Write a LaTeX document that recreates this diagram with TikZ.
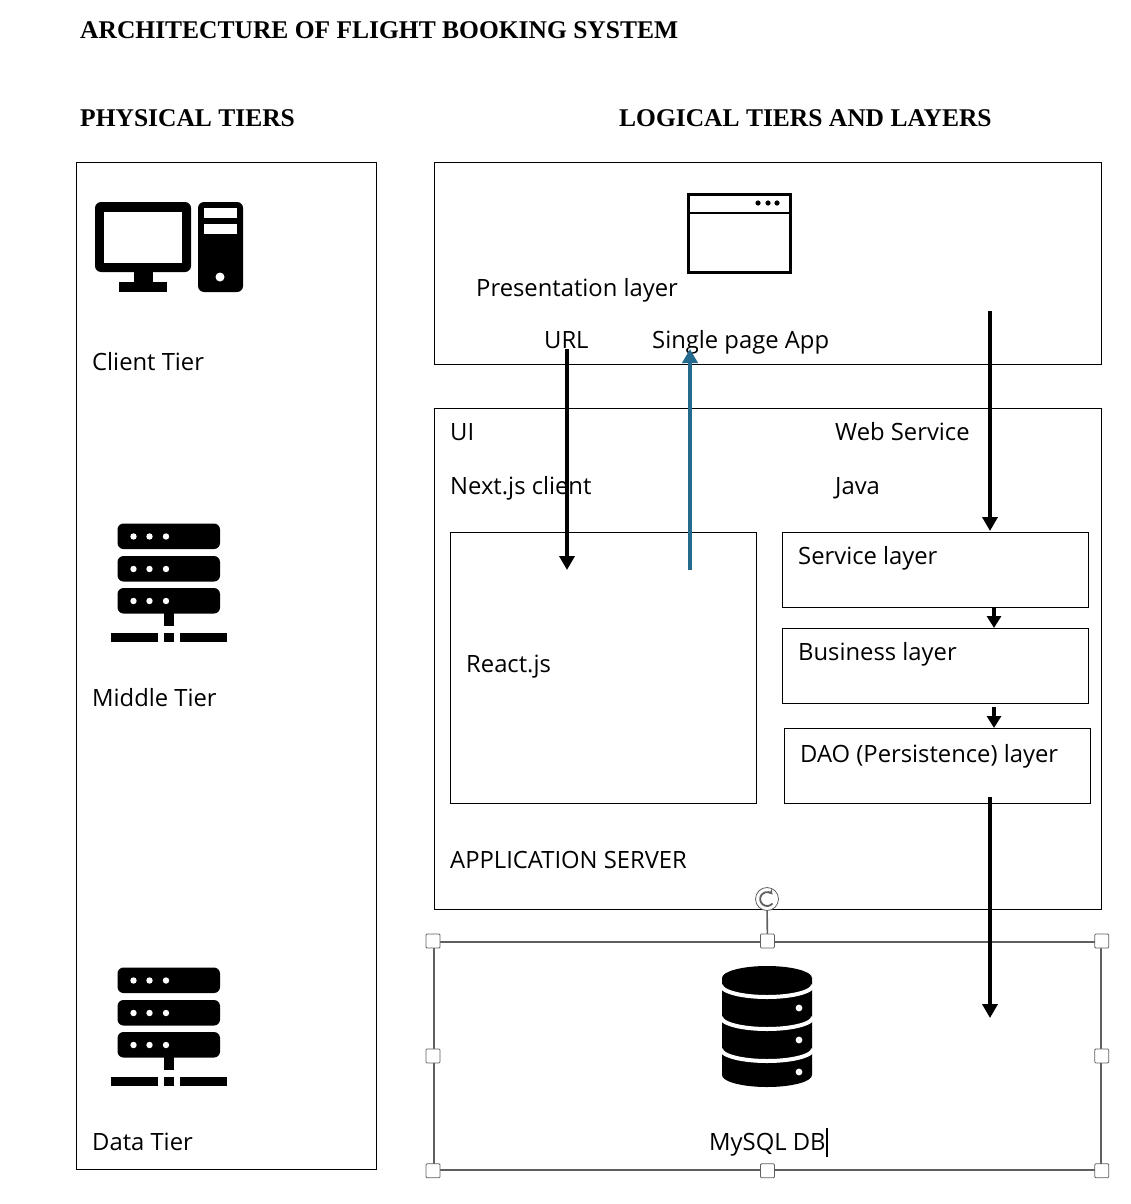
\documentclass[tikz,border=0pt]{standalone}
\usepackage{fontspec}
\setmainfont{Open Sans}
\newfontfamily\headfont{Liberation Serif}
\usetikzlibrary{arrows.meta}
\definecolor{framegray}{HTML}{5F5F5F}
\definecolor{returnblue}{HTML}{246A8F}
\tikzset{
  tierbox/.style={draw,line width=0.9pt,anchor=north west,inner sep=0pt},
  heading/.style={anchor=base west,inner sep=0pt,font=\headfont\bfseries\fontsize{25.5}{30}\selectfont},
  label/.style={anchor=base west,inner sep=0pt,font=\fontsize{23.8}{28}\selectfont},
  flow/.style={line width=4.1pt,-{Triangle[length=14pt,width=15pt]}},
  handle/.style={draw=framegray,fill=white,line width=0.8pt,minimum size=14pt,inner sep=0pt,rounded corners=1pt},
}
% server rack, #1 is the vertical offset
\newcommand{\rackicon}[1]{
  \begin{scope}[yshift=-#1pt]
    \foreach \t in {523.5,556,588}{
      \fill[rounded corners=6pt] (117.5,\t) rectangle (220,\t+25.5);
      \foreach \d in {133.5,149.5,166}
        \fill[white] (\d,\t+13) circle (3.2);
    }
    \fill (164,613) rectangle (174,626);
    \fill (111,633) rectangle (158,642);
    \fill (164,633) rectangle (174,642);
    \fill (180,633) rectangle (227,642);
  \end{scope}
}
\begin{document}
\begin{tikzpicture}[x=1pt,y=-1pt]
\useasboundingbox (0,0) rectangle (1130,1204);

\node(title)    [heading] at (80,38.5)   {ARCHITECTURE OF FLIGHT BOOKING SYSTEM};
\node(physical) [heading] at (80,126.5)  {PHYSICAL TIERS};
\node(logical)  [heading] at (619,126.5) {LOGICAL TIERS AND LAYERS};

% boxes
\node(tiers)    [tierbox,minimum width=300pt,minimum height=1007pt] at (76,162)  {};
\node(present)  [tierbox,minimum width=667pt,minimum height=202pt]  at (434,162) {};
\node(appsrv)   [tierbox,minimum width=667pt,minimum height=501pt]  at (434,408) {};
\node(react)    [tierbox,minimum width=306pt,minimum height=271pt]  at (450,532) {};
\node(service)  [tierbox,minimum width=306pt,minimum height=75pt]   at (782,532) {};
\node(business) [tierbox,minimum width=306pt,minimum height=75pt]   at (782,628) {};
\node(dao)      [tierbox,minimum width=306pt,minimum height=75pt]   at (784,728) {};
\node(db)       [draw=framegray,line width=1.8pt,anchor=north west,inner sep=0pt,
                 minimum width=667pt,minimum height=228pt]          at (433,941) {};

% labels
\node(client)   [label] at (92,370)   {Client Tier};
\node(middle)   [label] at (92,706)   {Middle Tier};
\node(data)     [label] at (92,1150)  {Data Tier};
\node(preslbl)  [label] at (476,296)  {Presentation layer};
\node(url)      [label] at (544,348)  {URL};
\node(spa)      [label] at (652,348)  {Single page App};
\node(ui)       [label] at (450,440)  {UI};
\node(nextjs)   [label] at (450,494)  {Next.js client};
\node(websvc)   [label] at (835,440)  {Web Service};
\node(java)     [label] at (835,494)  {Java};
\node(reactlbl) [label] at (466,672)  {React.js};
\node(svclbl)   [label] at (798,564)  {Service layer};
\node(buslbl)   [label] at (798,660)  {Business layer};
\node(daolbl)   [label] at (800,762)  {DAO (Persistence) layer};
\node(srvlbl)   [label] at (450,868)  {APPLICATION SERVER};
\node(mysql)    [label] at (709,1150) {MySQL DB};
\draw[line width=2pt] (827,1128) -- (827,1157);

% free ends of the arrows
\coordinate(urltop)   at (567,349);
\coordinate(urlend)   at (567,570);
\coordinate(spaend)   at (690,349);
\coordinate(spatop)   at (690,570);
\coordinate(wstop)    at (990,311);
\coordinate(wsend)    at (990,531);
\coordinate(svcout)   at (994,607);
\coordinate(busin)    at (994,628);
\coordinate(busout)   at (994,707);
\coordinate(daoin)    at (994,728);
\coordinate(daoout)   at (990,797);
\coordinate(dbin)     at (990,1018);

\draw[flow] (urltop) -- (urlend);
\draw[flow,returnblue] (spatop) -- (spaend);
\draw[flow] (wstop) -- (wsend);
\draw[flow,-{Triangle[length=12pt,width=14pt]}] (svcout) -- (busin);
\draw[flow,-{Triangle[length=12pt,width=14pt]}] (busout) -- (daoin);
\draw[flow] (daoout) -- (dbin);

% selection frame
\node(rotate) [draw=framegray,fill=white,circle,line width=0.8pt,minimum size=23pt,inner sep=0pt] at (767,899) {};
\draw[framegray,line width=1.6pt] (rotate) -- (db.north);
\draw[framegray,line width=1.8pt,-{Stealth[length=5pt,width=6pt]}] (772.5,903.5) arc (40:320:7);
\foreach \a in {north west,north,north east,west,east,south west,south,south east}
  \node(h \a) [handle] at (db.\a) {};

% client icon
\fill[rounded corners=6pt] (95,202) rectangle (191,272);
\fill[white] (104,212) rectangle (182,263);
\fill (134,272) rectangle (153,282);
\fill (119,282) rectangle (167,292);
\fill[rounded corners=6pt] (198,202) rectangle (243,292);
\fill[white] (204,208) rectangle (237,218);
\fill[white] (204,224) rectangle (237,234);
\fill[white] (220,277) circle (4.5);

% server icons
\rackicon{0}
\rackicon{444}

% browser icon
\draw[line width=3pt] (688,194) rectangle (790,272);
\draw[line width=2.2pt] (688,213) -- (790,213);
\foreach \d in {758,768,777}
  \fill (\d,203) circle (2.6);

% database icon
\fill (722,978) -- (722,1075) arc (180:0:45 and 12) -- (812,978) arc (0:-180:45 and 12) -- cycle;
\foreach \t in {985,1017,1049}
  \draw[white,line width=4pt] (721,\t) arc (180:0:46 and 12);
\foreach \t in {1008,1040,1072}
  \fill[white] (799,\t) circle (3.4);
\end{tikzpicture}
\end{document}
